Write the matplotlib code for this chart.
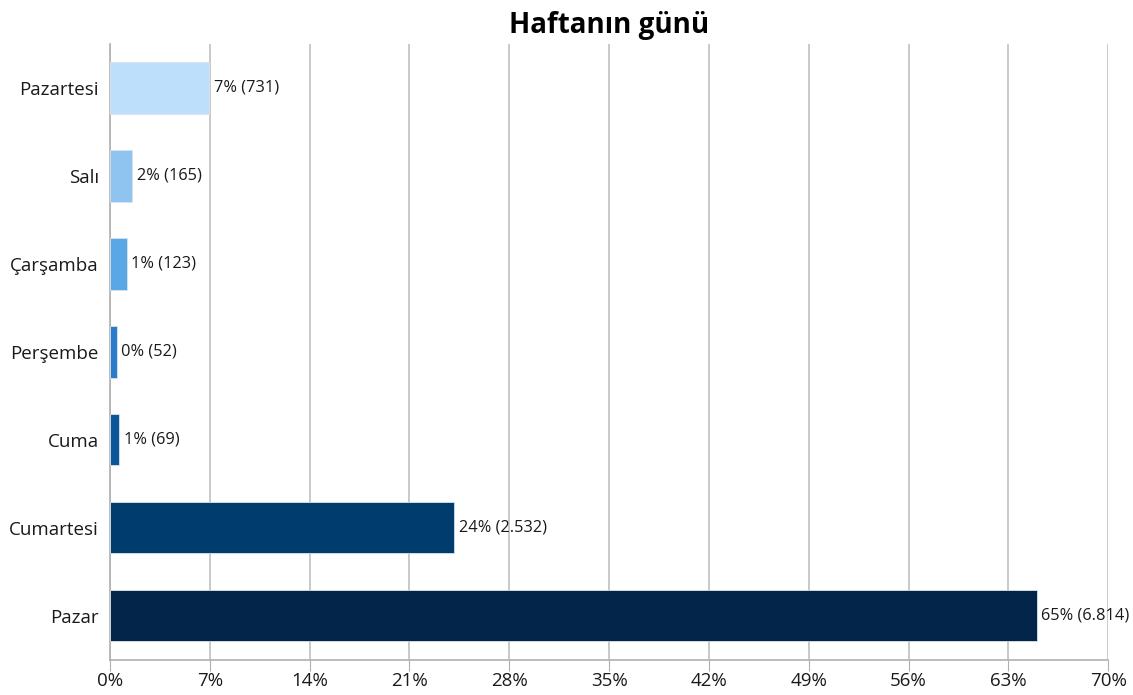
import matplotlib
matplotlib.use("Agg")
import matplotlib.pyplot as plt
import numpy as np

plt.rcParams['font.family'] = ['Open Sans', 'DejaVu Sans']

# data
days = ['Pazartesi', 'Salı', 'Çarşamba', 'Perşembe', 'Cuma', 'Cumartesi', 'Pazar']
counts = [731, 165, 123, 52, 69, 2532, 6814]
colors = ['#bddffb', '#8fc3f0', '#5aa7e6', '#2a7bc9', '#0b5699', '#003d6e', '#03254a']
ticks = [0, 7, 14, 21, 28, 35, 42, 49, 56, 63, 70]

total = sum(counts)
pct = [c / total * 100 for c in counts]

fig = plt.figure(figsize=(11.33, 6.95), dpi=100)
ax = fig.add_axes([0.0971, 0.0504, 0.8810, 0.8863])

y = np.arange(len(days))
ax.barh(y, pct, height=0.58, color=colors, edgecolor='#d8e4ee', linewidth=0.6, zorder=3)

for yi, p, c in zip(y, pct, counts):
    lbl = f"{round(p):.0f}% ({c:,})".replace(',', '.')
    ax.annotate(lbl, (p, yi), xytext=(3, 0), textcoords='offset points',
                va='center', ha='left', fontsize=11.8, color='#1a1a1a')

ax.set_ylim(len(days) - 0.5, -0.5)
ax.set_xlim(0, 70)
ax.set_xticks(ticks)
ax.set_xticklabels([f"{t}%" for t in ticks], fontsize=13.5, color='#1a1a1a')
ax.set_yticks(y)
ax.set_yticklabels(days, fontsize=13.5, color='#1a1a1a')
ax.tick_params(axis='y', length=0, pad=8)
ax.tick_params(axis='x', length=8, color='#b0b0b0', pad=1)

ax.grid(axis='x', color='#c0c0c0', linewidth=1.2, zorder=0)
for s in ['top', 'right']:
    ax.spines[s].set_visible(False)
for s in ['left', 'bottom']:
    ax.spines[s].set_color('#b0b0b0')
    ax.spines[s].set_linewidth(1.2)

ax.set_title('Haftanın günü', fontsize=20, fontweight='bold', pad=8)

fig.savefig('out.png', dpi=100)
